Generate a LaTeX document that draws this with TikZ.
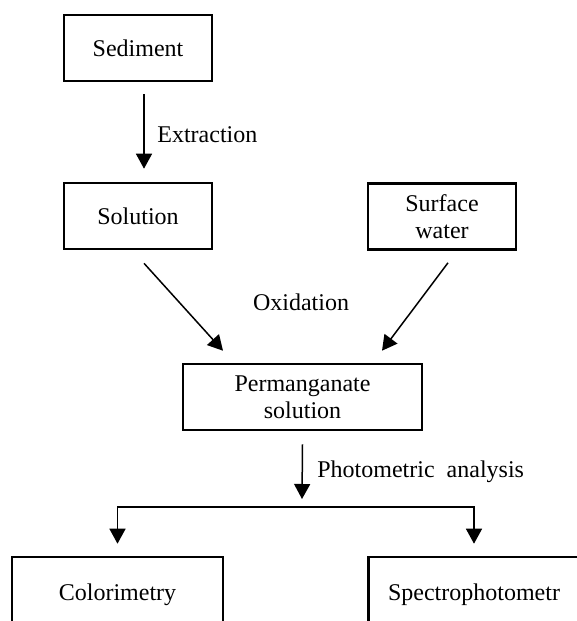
\documentclass[tikz,border=0pt]{standalone}
\usepackage{fontspec}
\setmainfont{Liberation Serif}
\usetikzlibrary{arrows.meta}
\begin{document}
\begin{tikzpicture}[x=0.5pt,y=-0.5pt,
  box/.style={draw,line width=1.3pt,inner sep=0pt,align=center,
    font=\fontsize{12}{13.3}\selectfont},
  lbl/.style={inner sep=0pt,font=\fontsize{12}{13.3}\selectfont},
  arr/.style={line width=0.75pt,-{Triangle[length=7.5pt,width=8pt]}},
  ln/.style={line width=0.75pt}]
\useasboundingbox (0,0) rectangle (577,621);
\clip (0,0) rectangle (577,621);
\node[box,minimum width=74pt,minimum height=33pt] (sed) at (138,48) {Sediment};
\node[box,minimum width=74pt,minimum height=33pt] (sol) at (138,216) {Solution};
\node[box,minimum width=74pt,minimum height=33pt] (sw) at (442,216.5) {Surface\\water};
\node[box,minimum width=119.5pt,minimum height=33pt] (perm) at (302.5,397) {Permanganate\\solution};
\node[box,minimum width=105.5pt,minimum height=38pt] (colo) at (117.5,595) {Colorimetry};
\node[box,minimum width=105.5pt,minimum height=38pt] (spec) at (474,595) {Spectrophotometr};
\coordinate (branch) at (295.5,507);
\node[lbl,anchor=west] (ext) at (157,135) {Extraction};
\node[lbl] (oxi) at (301,302) {Oxidation};
\node[lbl,anchor=west] (pho) at (317,472) {Photometric\ \ analysis};
\draw[arr] ([xshift=3pt,yshift=-6pt]sed.south) -- ([xshift=3pt,yshift=6.5pt]sol.north);
\draw[arr] ([xshift=3pt,yshift=-6.5pt]sol.south) -- ([xshift=-39.75pt,yshift=6pt]perm.north);
\draw[arr] ([xshift=3pt,yshift=-6pt]sw.south) -- ([xshift=39.75pt,yshift=6pt]perm.north);
\draw[arr] ([yshift=-6.5pt]perm.south) -- ([xshift=3.25pt,yshift=4pt]branch);
\draw[arr] (branch) -| ([yshift=6pt]colo.north);
\draw[arr] (branch) -| ([yshift=6pt]spec.north);
\end{tikzpicture}
\end{document}
